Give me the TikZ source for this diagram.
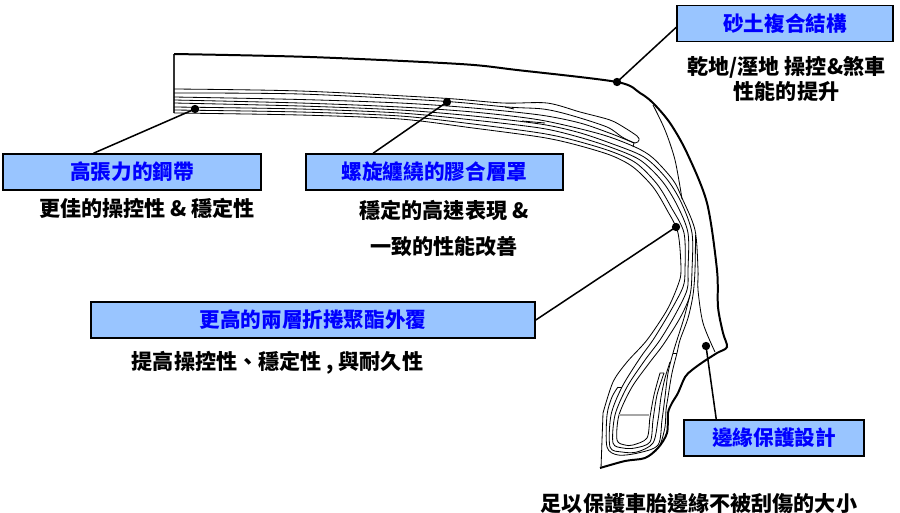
\documentclass[tikz,border=0pt]{standalone}
\usepackage{fontspec}
\setmainfont{Noto Sans CJK TC}
\usepackage{xcolor}
\usetikzlibrary{positioning}
\definecolor{boxfill}{RGB}{153,197,255}
\definecolor{boxtext}{RGB}{0,0,255}
\begin{document}
\begin{tikzpicture}[
      x=0.03cm,y=-0.03cm,
      callout/.style={draw=black,line width=1.3pt,fill=boxfill,text=boxtext,minimum height=1.08cm,font=\fontsize{17.6}{20}\selectfont\bfseries},
      note/.style={font=\fontsize{18}{20}\selectfont\bfseries,inner sep=0pt},
      dot/.style={circle,fill=black,inner sep=0pt,minimum size=0.25cm},
      lead/.style={line width=1.3pt,black},
      outline/.style={line width=1.7pt,black},
      ply/.style={line width=0.7pt,black}
    ]
      \useasboundingbox (0,0) rectangle (900,513);
      % Tire outline
      \draw[line width=0.9pt,black!80] (174,54) -- (174,113);
      \draw[outline] plot[smooth] coordinates {(174,54) (310,57) (460,64) (517,70) (617,82) (640,93) (653,103) (670,123) (687,153) (707,203) (717,270) (718,307) (723,333) (727,347) (717,353) (703,362) (692,370) (685,377) (678,393) (672,403) (668,413) (667,433) (658,448) (645,458) (625,461) (600,468)};
      \draw[ply] plot[smooth] coordinates {(653,105) (665,130) (675,160) (682,199)};
      % Belt with the folded end
      \draw[ply] plot[smooth] coordinates {(174,89) (300,91) (440,98) (503,103) (547,103) (580,112) (610,120) (625,128) (637,136) (639,140) (635,143) (622,137) (607,127) (570,115) (543,109) (507,107) (440,101) (300,94) (174,93)};
      \draw[ply] plot[smooth] coordinates {(174,97) (300,99.5) (400,103) (473,108) (540,115) (580,123) (612,134) (634,143)} -- (633,147);
      \draw[ply] (505,107) -- (514,109);
      \draw[ply] (522,121) -- (545,123);
      % Plies, outer to inner
      \draw[ply] plot[smooth] coordinates {(174,100) (300,103) (400,107) (473,112) (540,120) (600,134) (635,147) (653,158) (673,180) (682,198) (695,230) (698,270) (698,290) (703,323) (715,352)};
      \draw[ply] plot[smooth] coordinates {(174,103) (300,106) (400,110) (473,116) (540,124) (577,132) (610,143) (644,157) (666,178) (681,202) (692,233) (692,270) (690,295) (680,318) (663,345) (650,362) (632,387) (619,415) (617,440) (625,445) (633,445) (647,438) (650,417) (654,395) (660,373)} -- (664,373);
      \draw[ply] plot[smooth] coordinates {(174,107) (300,109) (400,113) (473,120) (540,128) (575,136) (610,147) (640,160) (662,181) (677,205) (688,233) (688,270) (687,290) (675,315) (660,340) (645,360) (627,387) (615,415) (613,443) (623,448) (635,448) (650,442) (653,420) (657,395) (664,373)};
      \draw[ply] plot[smooth] coordinates {(174,110) (300,112) (400,116) (473,124) (540,133) (573,140) (610,151) (636,163) (657,184) (671,207) (684,233) (685,270) (683,287) (670,312) (653,340) (640,358) (622,387) (611,415) (610,447) (622,452) (637,452) (653,443) (658,420) (661,397) (665,378) (670,362)};
      \draw[ply] plot[smooth] coordinates {(174,113) (300,115) (400,119) (473,128) (540,137) (573,144) (610,155) (633,167) (653,187) (667,210) (678,233) (681,270) (678,285) (667,310) (647,340) (627,362) (613,382) (603,413)} -- (601,468);
      % Turn-ups round the bead
      \draw[ply] (622,387) -- (618,387);
      \draw[ply] plot[smooth] coordinates {(618,387) (612,397) (607,415) (607,447) (618,455) (638,453) (658,445) (662,420) (665,397) (668,373) (673,353) (677,340) (684,318) (690,295)};
      \draw[ply] plot[smooth] coordinates {(695.5,235) (695,270) (693,295) (688,318) (680,340) (677,353) (672,373) (668,397) (666,410) (665,427) (660,445) (653,452)};
      \draw[ply] (673,353) -- (677,353);
      \draw[line width=0.9pt,black!35] (619,415) -- (649,415);
      % Callout boxes
      \node[callout,minimum width=7.74cm] (boxsteel) at (132,172) {高張力的鋼帶};
      \node[callout,minimum width=7.71cm] (boxspiral) at (434.5,172) {螺旋纏繞的膠合層罩};
      \node[callout,minimum width=13.32cm] (boxcasing) at (313,320) {更高的兩層折捲聚酯外覆};
      \node[callout,minimum width=6.48cm] (boxcompound) at (785,23.5) {砂土複合結構};
      \node[callout,minimum width=5.4cm] (boxedge) at (774,438) {邊緣保護設計};
      % Notes under the boxes
      \node[note] (notesteel) at (147,208) {更佳的操控性 \& 穩定性};
      \node[note] (notespiral) at (444,210) {穩定的高速表現 \&};
      \node[note] (notespiralb) at (444,246) {一致的性能改善};
      \node[note] (notecasing) at (277.5,363) {提高操控性、穩定性 , 與耐久性};
      \node[note] (notecompound) at (786.5,67) {乾地/溼地 操控\&煞車};
      \node[note] (notecompoundb) at (786.5,92) {性能的提升};
      \node[note] (noteedge) at (699,504) {足以保護車胎邊緣不被刮傷的大小};
      % Dots and leaders
      \node[dot] (dotsteel) at (195,109) {};
      \node[dot] (dotspiral) at (447,102) {};
      \node[dot] (dotcasing) at (676,227) {};
      \node[dot] (dotcompound) at (617,82) {};
      \node[dot] (dotedge) at (706,346) {};
      \draw[lead] (dotsteel.center) -- (boxsteel.154.7);
      \draw[lead] (dotspiral.center) -- (boxspiral.163.7);
      \draw[lead] (dotcasing.center) -- (boxcasing.east);
      \draw[lead] (dotcompound.center) -- (boxcompound.182);
      \draw[lead] (dotedge.center) -- (boxedge.162);
    \end{tikzpicture}
\end{document}
